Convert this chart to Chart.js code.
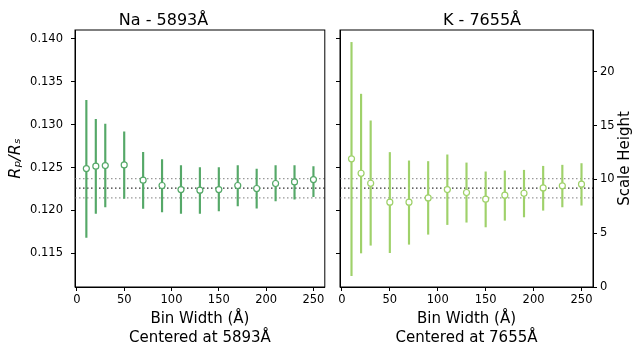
<!DOCTYPE html>
<html>
<head>
<meta charset="utf-8">
<script src="https://cdn.jsdelivr.net/npm/chart.js@4.4.0/dist/chart.umd.min.js"></script>
<style>
  html, body { margin: 0; padding: 0; background: #fff; }
  #wrap { position: relative; width: 634px; height: 349px; }
  .panel { position: absolute; top: 0; height: 349px; }
  #na-panel { left: 0; width: 330px; }
  #k-panel { left: 330px; width: 304px; }
</style>
</head>
<body>
<div id="wrap">
  <div class="panel" id="na-panel"><canvas id="na-chart" width="330" height="349"></canvas></div>
  <div class="panel" id="k-panel"><canvas id="k-chart" width="304" height="349"></canvas></div>
</div>
<script>
/* ---- data ---- */
const binWidths = [10, 20, 30, 50, 70, 90, 110, 130, 150, 170, 190, 210, 230, 250];

// Na - 5893 (Rp/Rs)
const naRatio = [0.12488, 0.12516, 0.12523, 0.12530, 0.12353, 0.12291, 0.12244, 0.12236, 0.12244, 0.12291, 0.12256, 0.12314, 0.12333, 0.12360];
const naLow   = [0.11686, 0.11965, 0.12043, 0.12140, 0.12023, 0.11984, 0.11965, 0.11965, 0.11996, 0.12054, 0.12027, 0.12112, 0.12132, 0.12160];
const naHigh  = [0.13283, 0.13062, 0.13004, 0.12915, 0.12678, 0.12593, 0.12523, 0.12500, 0.12500, 0.12523, 0.12481, 0.12523, 0.12523, 0.12512];

// K - 7655 (scale heights)
const kHeight = [11.91, 10.57, 9.64, 7.88, 7.88, 8.28, 9.05, 8.78, 8.16, 8.53, 8.71, 9.21, 9.40, 9.55];
const kLow    = [1.05, 3.16, 3.88, 3.19, 3.97, 4.90, 5.80, 6.02, 5.58, 6.20, 6.51, 7.13, 7.44, 7.60];
const kHigh   = [22.73, 17.92, 15.44, 12.50, 11.72, 11.66, 12.28, 11.53, 10.70, 10.79, 10.85, 11.22, 11.32, 11.47];

// reference level (mean and +/- band) in Rp/Rs
const meanRatio = 0.1226;
const bandRatio = [0.12147, 0.12372];

const binTicks = [0, 50, 100, 150, 200, 250];
const ratioTicks = [0.115, 0.120, 0.125, 0.130, 0.135, 0.140];
const heightTicks = [0, 5, 10, 15, 20];

const xRange = [-2, 262];
const ratioRange = [0.1111, 0.1410];
const heightRange = [0, 23.88];

const NA_COLOR = '#55a868';
const K_COLOR = '#9fd16a';
const FONT = 'DejaVu Sans';

// ---- helpers ----
const fixTicks = (vals) => (scale) => { scale.ticks = vals.map(v => ({ value: v })); };
const fixWidth = (w) => (scale) => { scale.width = w; };
const fixHeight = (h) => (scale) => { scale.height = h; };

function tickOpts(extra) {
  return Object.assign({ color: '#000', font: { family: FONT, size: 11.5 }, padding: 5 }, extra || {});
}
const gridOpts = { drawOnChartArea: false, drawTicks: true, tickLength: 4, color: '#000' };
const borderOpts = { display: true, color: '#000', width: 1 };

function hline(y, color, axis) {
  return {
    type: 'line', yAxisID: axis, order: 3,
    data: [{ x: xRange[0], y: y }, { x: xRange[1], y: y }],
    borderColor: color, borderWidth: 1.3, borderDash: [1.5, 2.5],
    pointRadius: 0, fill: false,
  };
}

function errorBars(lo, hi, color, axis) {
  return {
    type: 'bar', yAxisID: axis, order: 2,
    data: binWidths.map((x, i) => ({ x: x, y: [lo[i], hi[i]] })),
    backgroundColor: color, borderWidth: 0,
    barThickness: 1.5, grouped: false,
  };
}

function markers(vals, color, axis) {
  return {
    type: 'line', yAxisID: axis, order: 1, showLine: false,
    data: binWidths.map((x, i) => ({ x: x, y: vals[i] })),
    pointRadius: 3, pointBorderWidth: 1.2,
    pointBackgroundColor: '#fff', pointBorderColor: color,
  };
}

function xScale(center) {
  return {
    type: 'linear', min: xRange[0], max: xRange[1], offset: false,
    afterBuildTicks: fixTicks(binTicks), afterFit: fixHeight(62),
    ticks: tickOpts({ padding: 2 }),
    grid: Object.assign({ offset: false }, gridOpts), border: borderOpts,
    title: {
      display: true, text: ['Bin Width (Å)', 'Centered at ' + center + 'Å'],
      color: '#000', font: { family: FONT, size: 15, lineHeight: 1.3 }, padding: { top: 0, bottom: 1 },
    },
  };
}

function panelTitle(text) {
  return {
    display: true, text: text, color: '#000',
    font: { family: FONT, size: 16, weight: 'normal', lineHeight: 1.0 },
    padding: { top: 13, bottom: 1 },
  };
}

// box around the plotting area (matplotlib spines)
const frame = {
  id: 'frame',
  afterDatasetsDraw(chart) {
    const a = chart.chartArea, ctx = chart.ctx;
    ctx.save();
    ctx.strokeStyle = '#000';
    ctx.lineWidth = 1;
    ctx.strokeRect(a.left, a.top, a.right - a.left, a.bottom - a.top);
    ctx.restore();
  }
};

// right-hand axis label, reading bottom to top like matplotlib
const sideLabel = {
  id: 'sideLabel',
  afterDraw(chart, args, opts) {
    const a = chart.chartArea, ctx = chart.ctx;
    ctx.save();
    ctx.translate(chart.width - 9, (a.top + a.bottom) / 2);
    ctx.rotate(-Math.PI / 2);
    ctx.fillStyle = '#000';
    ctx.font = '15px "' + FONT + '"';
    ctx.textAlign = 'center';
    ctx.textBaseline = 'middle';
    ctx.fillText(opts.text, 0, 0);
    ctx.restore();
  }
};

const common = {
  responsive: false,
  animation: false,
  events: [],
  plugins: { legend: { display: false }, tooltip: { enabled: false } },
};

// ---- Na panel ----
new Chart(document.getElementById('na-chart'), {
  type: 'bar',
  data: {
    datasets: [
      markers(naRatio, NA_COLOR, 'y'),
      errorBars(naLow, naHigh, NA_COLOR, 'y'),
      hline(bandRatio[1], '#999', 'y'),
      hline(meanRatio, '#333', 'y'),
      hline(bandRatio[0], '#999', 'y'),
    ]
  },
  options: Object.assign({}, common, {
    layout: { padding: { left: 0, right: 3, top: 0, bottom: 0 } },
    plugins: Object.assign({}, common.plugins, { title: panelTitle('Na - 5893Å') }),
    scales: {
      x: xScale('5893'),
      y: {
        type: 'linear', position: 'left', min: ratioRange[0], max: ratioRange[1],
        afterBuildTicks: fixTicks(ratioTicks), afterFit: fixWidth(75),
        ticks: tickOpts({ padding: 8, callback: v => v.toFixed(3) }),
        grid: gridOpts, border: borderOpts,
        title: {
          display: true, text: 'Rₚ/Rₛ', color: '#000',
          font: { family: FONT, size: 16, style: 'italic', lineHeight: 1.2 }, padding: { top: 6, bottom: 0 },
        },
      },
    },
  }),
  plugins: [frame],
});

// ---- K panel ----
new Chart(document.getElementById('k-chart'), {
  type: 'bar',
  data: {
    datasets: [
      markers(kHeight, K_COLOR, 'y2'),
      errorBars(kLow, kHigh, K_COLOR, 'y2'),
      hline(bandRatio[1], '#999', 'y'),
      hline(meanRatio, '#333', 'y'),
      hline(bandRatio[0], '#999', 'y'),
    ]
  },
  options: Object.assign({}, common, {
    layout: { padding: 0 },
    plugins: Object.assign({}, common.plugins, {
      title: panelTitle('K - 7655Å'),
      sideLabel: { text: 'Scale Height' },
    }),
    scales: {
      x: xScale('7655'),
      y: {
        type: 'linear', position: 'left', min: ratioRange[0], max: ratioRange[1],
        afterBuildTicks: fixTicks(ratioTicks), afterFit: fixWidth(10),
        ticks: tickOpts({ callback: () => '' }),
        grid: gridOpts, border: borderOpts,
      },
      y2: {
        type: 'linear', position: 'right', min: heightRange[0], max: heightRange[1],
        afterBuildTicks: fixTicks(heightTicks), afterFit: fixWidth(41),
        ticks: tickOpts({ padding: 3 }),
        grid: gridOpts, border: borderOpts,
      },
    },
  }),
  plugins: [frame, sideLabel],
});
</script>
</body>
</html>
